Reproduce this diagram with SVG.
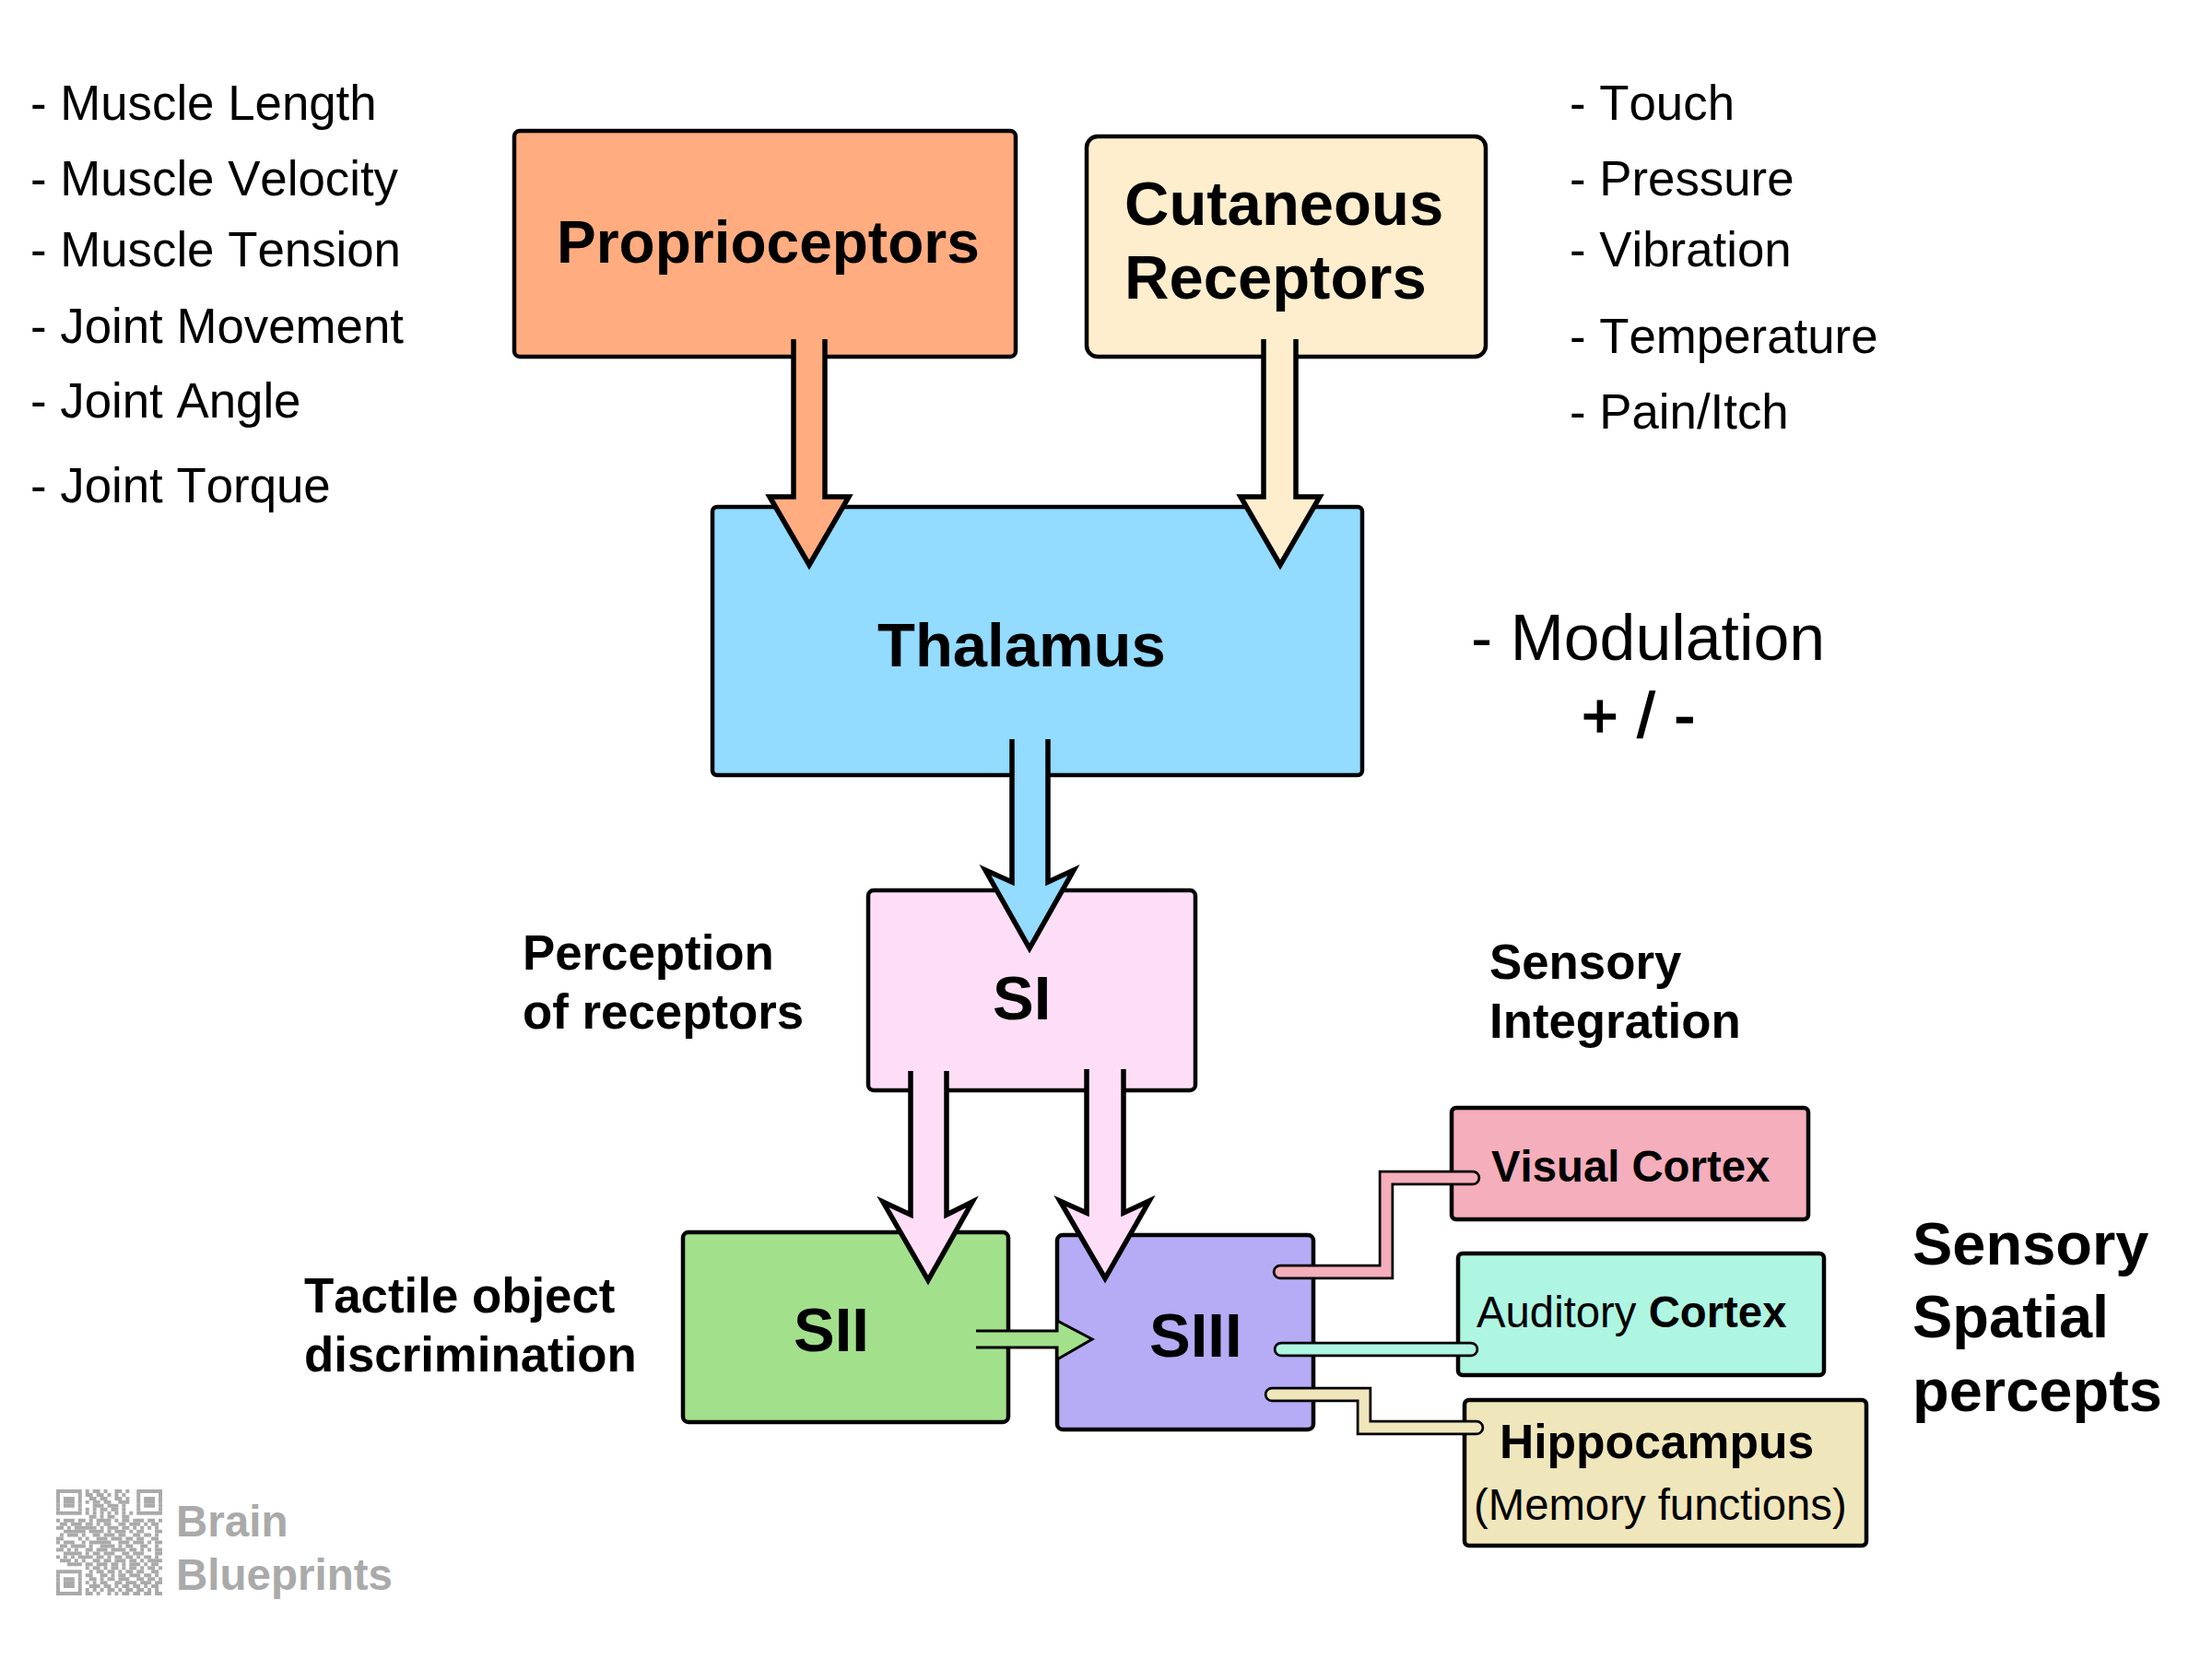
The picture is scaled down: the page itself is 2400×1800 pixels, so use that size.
<svg xmlns="http://www.w3.org/2000/svg" width="2400" height="1800" viewBox="0 0 2400 1800">
<style>
text{font-family:"Liberation Sans",Arial,sans-serif;fill:#000;font-kerning:none}
.box{stroke:#000;stroke-width:4.5}
.b{font-weight:700}
.t65{font-size:65px}.t67{font-size:67px}.t53{font-size:52.8px}.t47{font-size:47.3px}
.arrow{stroke:#000;stroke-width:5.5;stroke-miterlimit:10;stroke-linejoin:miter}
.outer{fill:none;stroke:#000;stroke-width:16.5;stroke-linecap:round;stroke-linejoin:miter}
.inner{fill:none;stroke-width:11;stroke-linecap:round;stroke-linejoin:miter}
.wm{fill:#aaa;font-size:47.5px;font-weight:700}
.qr path{stroke:#aaa;stroke-width:1;fill:none}
</style>
<rect width="2400" height="1800" fill="#fff"/>
<g id="proprioceptors"><rect class="box" x="558" y="142" width="544" height="245" rx="6" fill="#ffad80"/><text class="b" font-size="64" x="604" y="285">Proprioceptors</text></g>
<g id="cutaneous"><rect class="box" x="1179" y="148" width="433" height="239" rx="12" fill="#feeecd"/><text class="b t67" x="1220" y="244">Cutaneous</text><text class="b t67" x="1220" y="324">Receptors</text></g>
<g id="thalamus"><rect class="box" x="773" y="550" width="705" height="291" rx="5" fill="#93dbff"/><text class="b t67" x="952" y="723">Thalamus</text></g>
<g id="si"><rect class="box" x="942" y="966" width="355" height="217" rx="6" fill="#fddef6"/><text class="b t67" x="1077" y="1106">SI</text></g>
<g id="sii"><rect class="box" x="741" y="1337" width="353" height="206" rx="6" fill="#a3e08c"/><text class="b t67" x="861" y="1466">SII</text></g>
<g id="siii"><rect class="box" x="1147" y="1340" width="278" height="211" rx="6" fill="#b5acf5"/><text class="b t67" x="1247" y="1472">SIII</text></g>
<g id="visual"><rect class="box" x="1575" y="1202" width="387" height="121" rx="5" fill="#f5aebb"/><text class="b t47" x="1618" y="1282">Visual Cortex</text></g>
<g id="auditory"><rect class="box" x="1582" y="1360" width="397" height="132" rx="5" fill="#aef5e2"/><text class="t47" x="1602" y="1440">Auditory <tspan class="b">Cortex</tspan></text></g>
<g id="hippocampus"><rect class="box" x="1589" y="1519" width="436" height="158" rx="5" fill="#f0e6bb"/><text class="b" font-size="51.6" x="1627" y="1582">Hippocampus</text><text class="t47" font-size="47.5" x="1599" y="1649">(Memory functions)</text></g>
<g id="connectors">
<path class="arrow" fill="#ffad80" d="M861 368V539H835L878 613L921 539H895V368"/>
<path class="arrow" fill="#feeecd" d="M1371 368V539H1346L1389 613L1432 539H1406V368"/>
<path class="arrow" fill="#93dbff" d="M1098 802V957L1069 944L1117 1029L1165 944L1137 957V802"/>
<path class="arrow" fill="#fddef6" d="M988 1162V1318L958 1304L1007 1389L1055 1304L1027 1318V1162"/>
<path class="arrow" fill="#fddef6" d="M1179 1160V1316L1150 1303L1199 1387L1247 1303L1219 1316V1160"/>
<path fill="#a3e08c" stroke="#000" stroke-width="3" d="M1059 1444H1147V1433L1185 1453L1147 1475V1462H1059"/>
<path class="outer" d="M1389 1380H1504V1278H1598"/><path class="inner" stroke="#f5aebb" d="M1389 1380H1504V1278H1598"/>
<path class="outer" d="M1390 1464H1596"/><path class="inner" stroke="#aef5e2" d="M1390 1464H1596"/>
<path class="outer" d="M1380 1513H1480V1549H1602"/><path class="inner" stroke="#f0e6bb" d="M1380 1513H1480V1549H1602"/>
</g>
<g id="labels-left">
<text class="t53" x="33" y="130">- Muscle Length</text>
<text class="t53" x="33" y="212">- Muscle Velocity</text>
<text class="t53" x="33" y="289">- Muscle Tension</text>
<text class="t53" x="33" y="372">- Joint Movement</text>
<text class="t53" x="33" y="453">- Joint Angle</text>
<text class="t53" x="33" y="545">- Joint Torque</text>
</g>
<g id="labels-right">
<text class="t53" x="1703" y="130">- Touch</text>
<text class="t53" x="1703" y="212">- Pressure</text>
<text class="t53" x="1703" y="289">- Vibration</text>
<text class="t53" x="1703" y="383">- Temperature</text>
<text class="t53" x="1703" y="465">- Pain/Itch</text>
</g>
<g id="annotations">
<text font-size="69.8" x="1596" y="716">- Modulation</text>
<text font-size="68" x="1716" y="800" style="stroke:#000;stroke-width:1.6px;word-spacing:2px">+ / -</text>
<text class="b t53" x="567" y="1052">Perception</text><text class="b t53" x="567" y="1116">of receptors</text>
<text class="b t53" x="1616" y="1062">Sensory</text><text class="b t53" x="1616" y="1126">Integration</text>
<text class="b t53" x="330" y="1424">Tactile object</text><text class="b t53" x="330" y="1488">discrimination</text>
<text class="b t65" x="2075" y="1372">Sensory</text><text class="b t65" x="2075" y="1451">Spatial</text><text class="b t65" x="2075" y="1531">percepts</text>
</g>
<g id="watermark">
<g class="qr" transform="translate(61 1616) scale(3.966)">
<path d="M0 .5h29" stroke-dasharray="7 1 1 1 2 1 1 2 2 1 1 2 7"/>
<path d="M0 1.5h29" stroke-dasharray="1 5 1 1 2 1 2 1 1 1 1 1 1 3 1 5 1"/>
<path d="M0 2.5h29" stroke-dasharray="1 1 3 1 1 2 2 1 2 2 2 1 1 2 1 1 3 1 1"/>
<path d="M0 3.5h29" stroke-dasharray="1 1 3 1 1 1 1 1 2 1 2 2 3 2 1 1 3 1 1"/>
<path d="M0 4.5h29" stroke-dasharray="1 1 3 1 1 3 3 1 3 1 1 3 1 1 3 1 1"/>
<path d="M0 5.5h29" stroke-dasharray="1 5 1 1 1 1 1 1 2 1 2 1 1 3 1 5 1"/>
<path d="M0 6.5h29" stroke-dasharray="7 1 1 1 1 1 1 1 1 1 1 1 1 1 1 1 7"/>
<path d="M0 7.5h29" stroke-dasharray="0 9 2 1 1 1 2 2 2 9"/>
<path d="M0 8.5h29" stroke-dasharray="1 1 3 1 2 1 1 1 4 1 1 1 2 1 3 1 2 1 1"/>
<path d="M0 9.5h29" stroke-dasharray="0 1 2 1 3 1 2 1 1 1 2 2 2 1 3 1 1 1 2 1"/>
<path d="M0 10.5h29" stroke-dasharray="2 1 1 1 6 1 1 1 3 1 2 1 1 1 1 1 1 1 1 1"/>
<path d="M0 11.5h29" stroke-dasharray="0 2 6 1 4 1 1 1 3 1 1 1 2 3 2"/>
<path d="M0 12.5h29" stroke-dasharray="0 1 1 1 3 1 1 2 2 1 3 1 2 2 2 1 2 1 1 1"/>
<path d="M0 13.5h29" stroke-dasharray="2 4 1 1 1 2 3 1 3 1 2 1 2 2 2 1"/>
<path d="M0 14.5h29" stroke-dasharray="1 1 3 2 1 1 6 2 3 1 3 1 1 1 2"/>
<path d="M0 15.5h29" stroke-dasharray="0 1 2 1 4 1 1 2 4 1 1 1 2 2 2 2 1 1"/>
<path d="M0 16.5h29" stroke-dasharray="2 1 1 1 1 2 2 1 3 1 4 1 2 1 1 1 1 1 2"/>
<path d="M0 17.5h29" stroke-dasharray="0 2 5 1 1 1 2 1 3 2 2 1 3 3 2"/>
<path d="M0 18.5h29" stroke-dasharray="1 1 1 1 1 1 4 1 2 1 1 1 2 1 2 1 1 1 2 1 1 1"/>
<path d="M0 19.5h29" stroke-dasharray="0 1 3 1 1 1 1 2 2 1 2 1 3 1 2 1 1 1 4"/>
<path d="M0 20.5h29" stroke-dasharray="0 3 4 1 2 1 3 1 2 1 1 1 3 1 1 1 2 1"/>
<path d="M0 21.5h29" stroke-dasharray="0 8 1 1 2 1 1 1 2 1 1 1 2 1 1 1 2 1 1"/>
<path d="M0 22.5h29" stroke-dasharray="7 2 1 1 2 1 2 1 1 1 2 1 2 2 2 1"/>
<path d="M0 23.5h29" stroke-dasharray="1 5 1 1 2 2 2 1 1 1 2 1 3 1 2 1 1 1"/>
<path d="M0 24.5h29" stroke-dasharray="1 1 3 1 1 2 2 1 1 1 2 1 3 2 2 1 2 1 1"/>
<path d="M0 25.5h29" stroke-dasharray="1 1 3 1 1 1 1 1 1 1 2 2 2 1 3 1 3 1 2"/>
<path d="M0 26.5h29" stroke-dasharray="1 1 3 1 1 2 3 1 2 1 1 1 2 1 2 1 1 1 2 1"/>
<path d="M0 27.5h29" stroke-dasharray="1 5 1 1 1 1 1 1 1 1 2 1 1 1 2 1 2 1 1 1 1 1"/>
<path d="M0 28.5h29" stroke-dasharray="7 1 2 1 1 2 1 1 1 1 2 1 2 1 2 1 2"/>
</g>
<text class="wm" x="191" y="1667">Brain</text>
<text class="wm" x="191" y="1725">Blueprints</text>
</g>
</svg>
